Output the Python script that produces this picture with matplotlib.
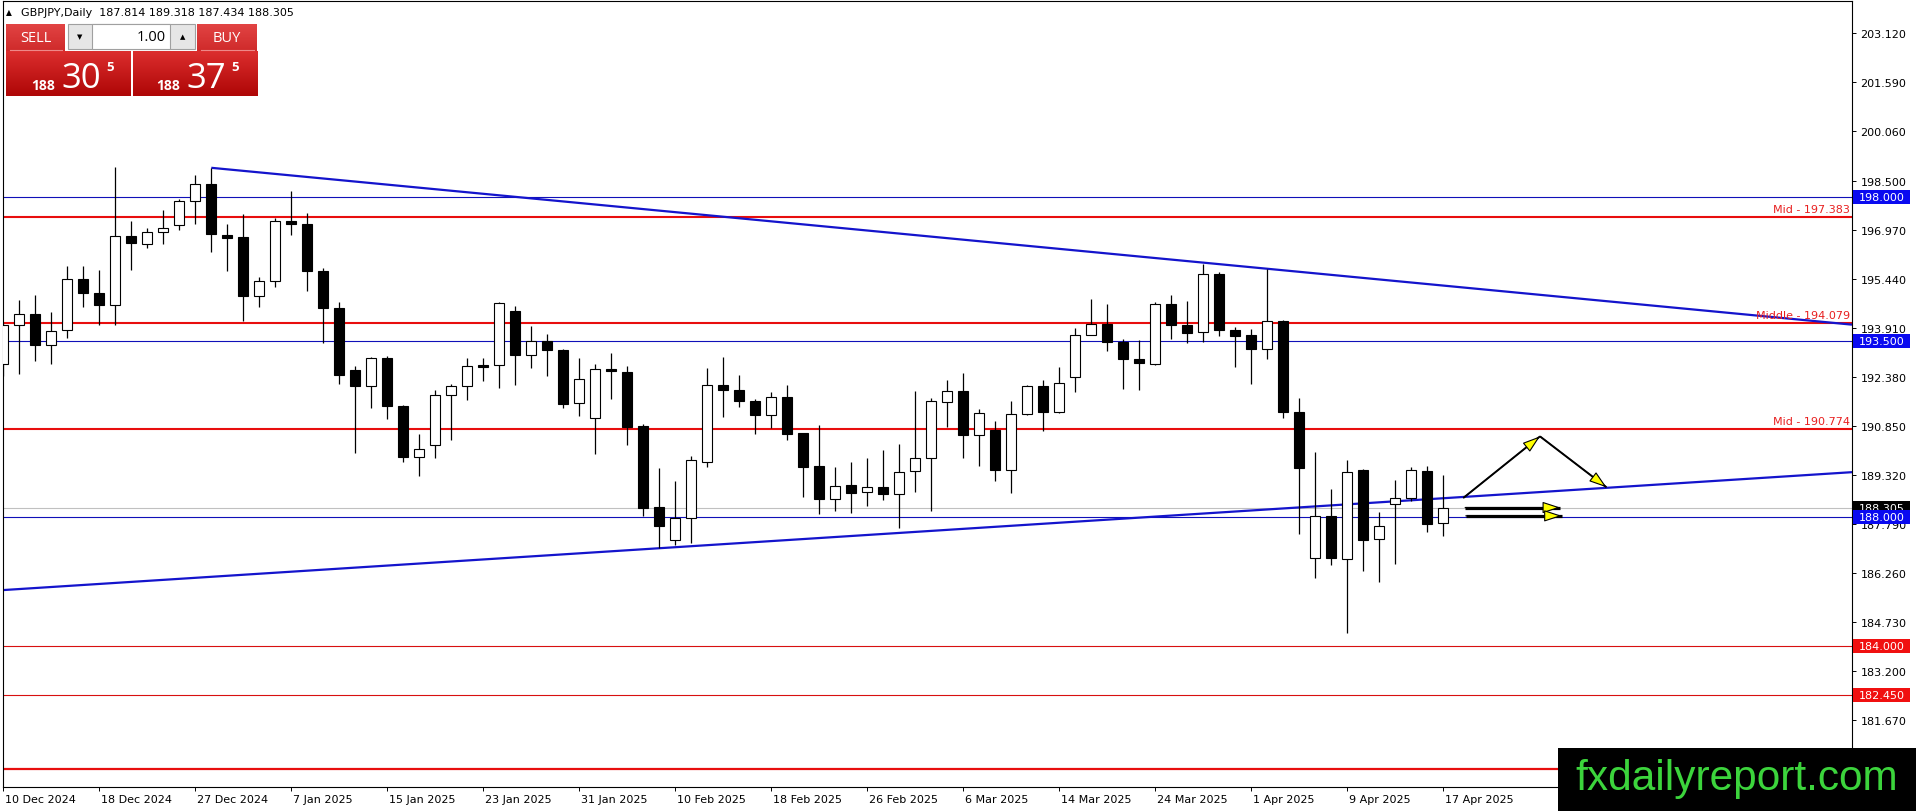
import matplotlib
matplotlib.use("Agg")
import matplotlib.pyplot as plt
import matplotlib.transforms as mtransforms
from matplotlib.patches import Rectangle, FancyArrowPatch
from matplotlib.colors import LinearSegmentedColormap
import numpy as np

# ---------------- data ----------------
opens = [192.78, 194.00, 194.35, 193.37, 193.85, 195.45, 195.00, 194.63, 196.78, 196.52,
         196.91, 197.13, 197.88, 198.42, 196.81, 196.75, 194.90, 195.38, 197.26, 197.17,
         195.70, 194.54, 192.61, 192.09, 192.98, 191.49, 189.89, 190.27, 191.82, 192.09,
         192.75, 192.75, 194.44, 193.08, 193.51, 193.23, 191.57, 191.10, 192.64, 192.55,
         190.84, 188.32, 187.31, 187.97, 189.74, 192.13, 191.99, 191.64, 191.20, 191.77,
         190.62, 189.60, 188.59, 189.02, 188.78, 188.96, 188.74, 189.46, 189.85, 191.60,
         191.95, 190.58, 190.74, 189.49, 191.23, 192.11, 191.29, 192.38, 193.69, 194.04,
         193.48, 192.95, 192.78, 194.65, 193.99, 193.78, 195.59, 193.85, 193.70, 193.27,
         194.13, 191.29, 186.72, 188.05, 186.69, 189.47, 187.34, 188.43, 188.60, 189.44,
         187.814]
highs = [194.06, 194.79, 194.95, 194.41, 195.86, 195.86, 195.73, 198.92, 197.26, 197.03,
         197.60, 197.95, 198.67, 198.91, 197.17, 197.48, 195.51, 197.35, 198.20, 197.50,
         195.79, 194.73, 192.73, 193.00, 193.05, 191.52, 190.59, 191.99, 192.17, 192.98,
         192.97, 194.71, 194.60, 193.98, 193.73, 193.27, 192.98, 192.80, 193.14, 192.73,
         190.93, 189.55, 189.14, 189.92, 192.65, 193.02, 192.46, 191.70, 191.91, 192.13,
         190.64, 190.90, 189.56, 189.73, 189.84, 190.09, 190.28, 191.95, 191.74, 192.30,
         192.51, 191.39, 191.02, 191.64, 192.12, 192.30, 192.70, 193.90, 194.83, 194.66,
         193.56, 193.53, 194.71, 194.94, 194.75, 195.92, 195.65, 193.93, 193.87, 195.74,
         194.15, 191.74, 190.05, 188.90, 189.80, 189.52, 188.18, 189.18, 189.57, 189.61,
         189.318]
lows = [192.40, 192.48, 192.87, 192.80, 193.59, 194.58, 194.02, 193.99, 195.71, 196.40,
        196.54, 196.96, 197.15, 196.27, 195.68, 194.14, 194.58, 195.18, 196.80, 195.08,
        193.44, 192.15, 190.02, 191.43, 191.06, 189.73, 189.29, 189.84, 190.43, 191.65,
        192.25, 192.03, 192.12, 192.65, 192.42, 191.40, 191.16, 189.97, 191.71, 190.26,
        188.04, 187.04, 187.14, 187.20, 189.57, 191.12, 191.44, 190.59, 190.80, 190.41,
        188.64, 188.12, 188.21, 188.14, 188.35, 188.56, 187.66, 188.80, 188.21, 190.81,
        189.85, 189.60, 189.14, 188.77, 191.20, 190.69, 191.27, 191.90, 193.68, 193.18,
        192.01, 191.97, 192.75, 193.58, 193.43, 193.47, 193.67, 192.68, 192.15, 192.93,
        191.09, 187.47, 186.10, 186.52, 184.38, 186.33, 185.99, 186.54, 188.51, 187.55,
        187.434]
closes = [193.99, 194.35, 193.37, 193.81, 195.44, 194.99, 194.62, 196.78, 196.55, 196.91,
          197.03, 197.88, 198.41, 196.83, 196.71, 194.90, 195.38, 197.25, 197.15, 195.68,
          194.55, 192.46, 192.09, 192.97, 191.47, 189.88, 190.14, 191.82, 192.10, 192.72,
          192.71, 194.68, 193.08, 193.50, 193.21, 191.55, 192.32, 192.63, 192.56, 190.82,
          188.30, 187.74, 187.98, 189.78, 192.13, 191.97, 191.62, 191.21, 191.76, 190.61,
          189.58, 188.58, 188.99, 188.77, 188.96, 188.74, 189.43, 189.86, 191.63, 191.95,
          190.57, 191.26, 189.48, 191.23, 192.10, 191.28, 192.19, 193.69, 194.03, 193.48,
          192.93, 192.81, 194.65, 193.99, 193.77, 195.61, 193.85, 193.67, 193.27, 194.13,
          191.28, 189.54, 188.05, 186.72, 189.43, 187.30, 187.73, 188.61, 189.47, 187.81,
          188.305]

date_tick_bars = [0, 6, 12, 18, 24, 30, 36, 42, 48, 54, 60, 66, 72, 78, 84, 90]
date_tick_labels = ["10 Dec 2024", "18 Dec 2024", "27 Dec 2024", "7 Jan 2025", "15 Jan 2025",
                    "23 Jan 2025", "31 Jan 2025", "10 Feb 2025", "18 Feb 2025", "26 Feb 2025",
                    "6 Mar 2025", "14 Mar 2025", "24 Mar 2025", "1 Apr 2025", "9 Apr 2025",
                    "17 Apr 2025"]
price_ticks = [203.120, 201.590, 200.060, 198.500, 196.970, 195.440, 193.910, 192.380,
               190.850, 189.320, 187.790, 186.260, 184.730, 183.200, 181.670]

mid_levels = [197.383, 194.079, 190.774]
mid_texts = ["Mid - 197.383", "Middle - 194.079", "Mid - 190.774"]
blue_levels = [198.000, 193.500, 188.000]
red_levels = [184.000, 182.450]
floor_level = 180.14
bid_price = 188.305

upper_trend_bars = [13, 79]
upper_trend_prices = [198.91, 195.76]
lower_trend_bars = [41, 90]
lower_trend_prices = [187.04, 188.60]

arrow_from_bars = [91.25, 96.04, 91.36, 91.40]
arrow_from_prices = [188.61, 190.53, 188.31, 188.05]
arrow_to_bars = [96.04, 100.20, 97.30, 97.40]
arrow_to_prices = [190.53, 188.94, 188.31, 188.05]
arrow_widths = [1.4, 1.4, 2.3, 2.3]

header_text = "GBPJPY,Daily  187.814 189.318 187.434 188.305"
lot_text = "1.00"
sell_quote = ["188", "30", "5"]
buy_quote = ["188", "37", "5"]
watermark_text = "fxdailyreport.com"

# ---------------- layout ----------------
W, H, DPI = 1916, 812, 100
PL, PR, PT, PB = 2.5, 1852.0, 1.5, 788.0
XLIM = (-0.05, 115.54)
YLIM = (179.59, 204.13)

fig = plt.figure(figsize=(W / DPI, H / DPI), dpi=DPI, facecolor="white")
ax = fig.add_axes([PL / W, (H - PB) / H, (PR - PL) / W, (PB - PT) / H])
ax.set_facecolor("white")
ax.set_xlim(*XLIM)
ax.set_ylim(*YLIM)

axw_px = PR - PL
ppu = (PB - PT) / (YLIM[1] - YLIM[0])
trans = mtransforms.blended_transform_factory(ax.transAxes, ax.transData)

# horizontal levels
for lv in mid_levels:
    ax.axhline(lv, color="#E80E0E", lw=1.5, zorder=1.6)
for lv, tx in zip(mid_levels, mid_texts):
    ax.text(1 - 2 / axw_px, lv + 2.5 / ppu, tx, transform=trans, ha="right", va="bottom",
            color="#E82020", fontsize=8, zorder=2)
for lv in red_levels:
    ax.axhline(lv, color="#D81010", lw=0.8, zorder=1.6)
ax.axhline(floor_level, color="#E80E0E", lw=1.6, zorder=1.6)
for lv in blue_levels:
    ax.axhline(lv, color="#1010B8", lw=0.8, zorder=1.6)
ax.axhline(bid_price, color="#C0C0C0", lw=0.8, zorder=1.55)

# trend lines
ut_slope = (upper_trend_prices[1] - upper_trend_prices[0]) / (upper_trend_bars[1] - upper_trend_bars[0])
ax.plot([upper_trend_bars[0], XLIM[1]],
        [upper_trend_prices[0], upper_trend_prices[0] + ut_slope * (XLIM[1] - upper_trend_bars[0])],
        color="#1414CC", lw=1.6, zorder=1.8, solid_capstyle="butt")
ax.axline((lower_trend_bars[0], lower_trend_prices[0]), (lower_trend_bars[1], lower_trend_prices[1]),
          color="#1414CC", lw=1.6, zorder=1.8)

# candles
xb = np.arange(len(opens))
o = np.array(opens); c = np.array(closes)
hi = np.array(highs); lo = np.array(lows)
up = c >= o
ax.vlines(xb, lo, hi, color="black", lw=0.9, zorder=3)
ax.bar(xb, np.maximum(np.abs(c - o), 0.01), bottom=np.minimum(o, c), width=0.64,
       color=np.where(up, "white", "black"), edgecolor="black", linewidth=0.8, zorder=4)

# arrows
for xa, ya, xz, yz, lw in zip(arrow_from_bars, arrow_from_prices, arrow_to_bars, arrow_to_prices, arrow_widths):
    ax.plot([xa, xz], [ya, yz], color="black", lw=lw, zorder=6, solid_capstyle="butt")
    arr = FancyArrowPatch((xa, ya), (xz, yz), arrowstyle="-|>,head_length=11,head_width=3.6",
                          mutation_scale=1, shrinkA=0, shrinkB=0, facecolor="#FFFF00",
                          edgecolor="black", lw=0.8, zorder=7)
    ax.add_patch(arr)

# axes styling
for sp in ax.spines.values():
    sp.set_color("black")
    sp.set_linewidth(0.8)
ax.yaxis.tick_right()
ax.set_yticks(price_ticks)
ax.set_yticklabels([f"{v:.3f}" for v in price_ticks])
ax.tick_params(axis="y", which="both", direction="out", length=3, width=0.7, pad=3,
               labelsize=8, colors="black", left=False, right=True)
ax.set_xticks(date_tick_bars)
ax.set_xticklabels(date_tick_labels)
ax.tick_params(axis="x", direction="out", length=3, width=0.7, pad=2, labelsize=8, colors="black")
offset = mtransforms.ScaledTranslation(1.5 / 72, 0, fig.dpi_scale_trans)
for lbl in ax.get_xticklabels():
    lbl.set_horizontalalignment("left")
    lbl.set_transform(lbl.get_transform() + offset)

# right-side price tags
def right_tag(level, text, fc, z):
    h = 14 / ppu
    ax.add_patch(Rectangle((1 + 1 / axw_px, level - h / 2), 57 / axw_px, h, transform=trans,
                           clip_on=False, facecolor=fc, edgecolor="none", zorder=z))
    ax.text(1 + 7 / axw_px, level, text, transform=trans, ha="left", va="center",
            color="white", fontsize=8, clip_on=False, zorder=z + 0.1)

right_tag(blue_levels[0], f"{blue_levels[0]:.3f}", "#0A0AF0", 10)
right_tag(blue_levels[1], f"{blue_levels[1]:.3f}", "#0A0AF0", 10)
right_tag(bid_price, f"{bid_price:.3f}", "#000000", 10)
right_tag(blue_levels[2], f"{blue_levels[2]:.3f}", "#0A0AF0", 11)
right_tag(red_levels[0], f"{red_levels[0]:.3f}", "#F01010", 10)
right_tag(red_levels[1], f"{red_levels[1]:.3f}", "#F01010", 10)

# ---------------- overlay (panel, header, watermark) ----------------
ov = fig.add_axes([0, 0, 1, 1], zorder=20)
ov.patch.set_alpha(0)
ov.axis("off")

def grad_box(x0, y0, w, h, ctop, cbot, z=1):
    cmap = LinearSegmentedColormap.from_list("g", [ctop, cbot])
    arr = np.linspace(0, 1, 64).reshape(-1, 1)
    ov.imshow(arr, cmap=cmap, extent=(x0, x0 + w, y0 + h, y0), aspect="auto",
              origin="upper", zorder=z, interpolation="bilinear")

ov.text(8.5, 13, "\u25B2", fontsize=5.5, ha="center", va="center", color="black")
ov.text(21, 13.5, header_text, fontsize=8, ha="left", va="center", color="black")

# SELL / BUY buttons
grad_box(6, 25, 59, 27, "#E24444", "#CF2A2A")
grad_box(197, 25, 60, 27, "#E24444", "#CF2A2A")
ov.plot([10, 62], [50.5, 50.5], color="#EE8888", lw=0.8, zorder=2)
ov.plot([201, 254], [50.5, 50.5], color="#EE8888", lw=0.8, zorder=2)
ov.text(35.5, 38.5, "SELL", fontsize=10.5, family="Open Sans", color="white", ha="center", va="center", zorder=3)
ov.text(227, 38.5, "BUY", fontsize=10.5, family="Open Sans", color="white", ha="center", va="center", zorder=3)

# lot selector
ov.add_patch(Rectangle((68, 25), 127, 25, facecolor="#E6E6E6", edgecolor="#A0A0A0", lw=0.8, zorder=1))
ov.add_patch(Rectangle((92, 25), 78, 25, facecolor="white", edgecolor="#A0A0A0", lw=0.8, zorder=2))
ov.text(80, 37.5, "\u25BC", fontsize=5, ha="center", va="center", color="black", zorder=3)
ov.text(182.5, 37.5, "\u25B2", fontsize=5, ha="center", va="center", color="black", zorder=3)
ov.text(166, 37.5, lot_text, fontsize=10.5, family="Open Sans", ha="right", va="center", color="black", zorder=3)

# big quote boxes
for bx, quote, sx in [(6, sell_quote, 31), (133, buy_quote, 156)]:
    grad_box(bx, 52, 125, 45, "#DC2E2E", "#AE0606")
    ov.text(sx, 90, quote[0], fontsize=10, family="Open Sans", fontweight="bold", color="white",
            ha="left", va="baseline", zorder=3)
    ov.text(sx + 30, 88.5, quote[1], fontsize=25, family="Open Sans", color="white",
            ha="left", va="baseline", zorder=3)
    ov.text(sx + 75, 61, quote[2], fontsize=9.5, family="Open Sans", fontweight="bold", color="white",
            ha="left", va="top", zorder=3)

# watermark
ov.add_patch(Rectangle((1558, 749), W - 1558, H - 749, facecolor="black", edgecolor="none", zorder=5))
ov.text(1575, 790, watermark_text, fontsize=30.5, family="Liberation Sans", color="#3CD43C",
        ha="left", va="baseline", zorder=6)

ov.set_xlim(0, W)
ov.set_ylim(H, 0)

fig.savefig("out.png", dpi=DPI, facecolor="white")
